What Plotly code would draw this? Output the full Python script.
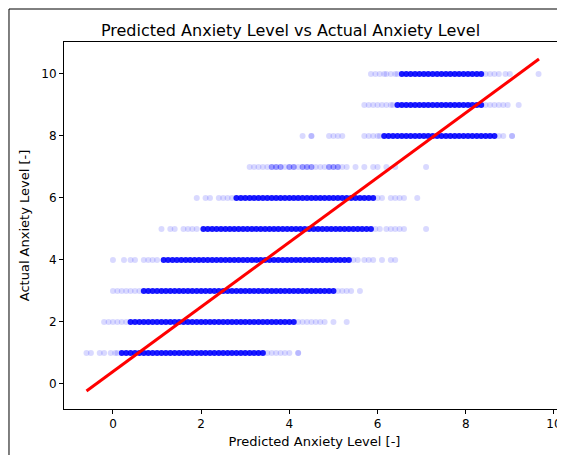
import plotly.graph_objects as go

# actual anxiety levels (rows of the scatter)
levels = [1, 2, 3, 4, 5, 6, 7, 8, 9, 10]

# dense part of each row: predicted values
core = {
    1: [0.2, 0.3, 0.4, 0.5, 0.6, 0.7, 0.8, 0.9, 1.0, 1.1, 1.2, 1.3, 1.4, 1.5, 1.6, 1.7, 1.8, 1.9, 2.0,
        2.1, 2.2, 2.3, 2.4, 2.5, 2.6, 2.7, 2.8, 2.9, 3.0, 3.1, 3.2, 3.3, 3.4],
    2: [0.4, 0.5, 0.6, 0.7, 0.8, 0.9, 1.0, 1.1, 1.2, 1.3, 1.4, 1.5, 1.6, 1.7, 1.8, 1.9, 2.0, 2.1, 2.2,
        2.3, 2.4, 2.5, 2.6, 2.7, 2.8, 2.9, 3.0, 3.1, 3.2, 3.3, 3.4, 3.5, 3.6, 3.7, 3.8, 3.9, 4.0, 4.1],
    3: [0.7, 0.8, 0.9, 1.0, 1.1, 1.2, 1.3, 1.4, 1.5, 1.6, 1.7, 1.8, 1.9, 2.0, 2.1, 2.2, 2.3, 2.4, 2.5,
        2.6, 2.7, 2.8, 2.9, 3.0, 3.1, 3.2, 3.3, 3.4, 3.5, 3.6, 3.7, 3.8, 3.9, 4.0, 4.1, 4.2, 4.3, 4.4,
        4.5, 4.6, 4.7, 4.8, 4.9, 5.0],
    4: [1.15, 1.25, 1.35, 1.45, 1.55, 1.65, 1.75, 1.85, 1.95, 2.05, 2.15, 2.25, 2.35, 2.45, 2.55, 2.65,
        2.75, 2.85, 2.95, 3.05, 3.15, 3.25, 3.35, 3.45, 3.55, 3.65, 3.75, 3.85, 3.95, 4.05, 4.15, 4.25,
        4.35, 4.45, 4.55, 4.65, 4.75, 4.85, 4.95, 5.05, 5.15, 5.25, 5.35],
    5: [2.05, 2.15, 2.25, 2.35, 2.45, 2.55, 2.65, 2.75, 2.85, 2.95, 3.05, 3.15, 3.25, 3.35, 3.45, 3.55,
        3.65, 3.75, 3.85, 3.95, 4.05, 4.15, 4.25, 4.35, 4.45, 4.55, 4.65, 4.75, 4.85, 4.95, 5.05, 5.15,
        5.25, 5.35, 5.45, 5.55, 5.65, 5.75, 5.85],
    6: [2.8, 2.9, 3.0, 3.1, 3.2, 3.3, 3.4, 3.5, 3.6, 3.7, 3.8, 3.9, 4.0, 4.1, 4.2, 4.3, 4.4, 4.5, 4.6,
        4.7, 4.8, 4.9, 5.0, 5.1, 5.2, 5.3, 5.4, 5.5, 5.6, 5.7, 5.8, 5.9],
    7: [3.6, 3.7, 3.8, 4.0, 4.1, 4.3, 4.4, 4.5, 4.9, 5.0, 5.1],
    8: [6.15, 6.25, 6.35, 6.45, 6.55, 6.65, 6.75, 6.85, 6.95, 7.05, 7.15, 7.25, 7.35, 7.45, 7.55, 7.65,
        7.75, 7.85, 7.95, 8.05, 8.15, 8.25, 8.35, 8.45, 8.55, 8.65],
    9: [6.45, 6.55, 6.65, 6.75, 6.85, 6.95, 7.05, 7.15, 7.25, 7.35, 7.45, 7.55, 7.65, 7.75, 7.85, 7.95,
        8.05, 8.15, 8.25, 8.35],
    10: [6.55, 6.65, 6.75, 6.85, 6.95, 7.05, 7.15, 7.25, 7.35, 7.45, 7.55, 7.65, 7.75, 7.85, 7.95, 8.05,
         8.15, 8.25, 8.35],
}

# sparse outliers of each row
tails = {
    1: [-0.6, -0.5, -0.3, -0.2, -0.05, 0.05, 0.1, 3.5, 3.6, 3.7, 3.8, 3.9, 4.0, 4.2, 4.2],
    2: [-0.2, -0.1, 0.0, 0.1, 0.2, 0.3, 4.2, 4.3, 4.4, 4.5, 4.6, 4.7, 4.8, 5.0, 5.3],
    3: [0.0, 0.1, 0.2, 0.3, 0.4, 0.5, 0.6, 5.1, 5.2, 5.3, 5.4, 5.6],
    4: [0.0, 0.25, 0.4, 0.5, 0.7, 0.8, 0.9, 1.0, 5.45, 5.55, 5.7, 5.8, 5.9, 6.1, 6.3, 6.4],
    5: [1.1, 1.3, 1.4, 1.6, 1.7, 1.8, 1.9, 5.95, 6.05, 6.2, 6.3, 6.4, 6.5, 6.6, 7.1],
    6: [1.9, 2.1, 2.2, 2.4, 2.5, 2.6, 2.7, 6.0, 6.1, 6.3, 6.4, 6.5, 6.6, 6.9],
    7: [3.1, 3.2, 3.3, 3.4, 3.5, 3.9, 4.2, 4.6, 4.7, 4.8, 5.2, 5.3, 5.5, 5.7, 5.9, 6.0, 6.2, 6.4, 7.1],
    8: [4.3, 4.5, 4.5, 4.9, 5.0, 5.1, 5.2, 5.7, 5.8, 5.9, 6.0, 6.05, 8.75, 8.85, 9.05, 9.05],
    9: [5.7, 5.8, 5.9, 6.0, 6.1, 6.2, 6.3, 6.35, 8.45, 8.55, 8.65, 8.75, 8.85, 8.95, 9.2],
    10: [5.85, 5.95, 6.05, 6.15, 6.2, 6.3, 6.4, 6.45, 8.45, 8.55, 8.65, 8.75, 8.9, 9.0, 9.65],
}

# fitted line end points
line_x = [-0.6, 9.66]
line_y = [-0.23, 10.48]

fig = go.Figure()

for lvl in levels:
    fig.add_trace(go.Scatter(
        x=tails[lvl], y=[lvl] * len(tails[lvl]), mode='markers',
        marker=dict(size=6, color='blue', opacity=0.15),
        hoverinfo='skip'
    ))
    fig.add_trace(go.Scatter(
        x=core[lvl], y=[lvl] * len(core[lvl]), mode='markers',
        marker=dict(size=6, color='blue', opacity=0.9 if lvl != 7 else 0.4),
        hoverinfo='skip'
    ))

fig.add_trace(go.Scatter(
    x=line_x, y=line_y, mode='lines',
    line=dict(color='red', width=3)
))

axis_style = dict(
    showgrid=False, zeroline=False, showline=True, linecolor='black', linewidth=1,
    mirror=True, ticks='outside', ticklen=4, tickcolor='black', automargin=False,
    tickfont=dict(family='DejaVu Sans', size=12, color='black'),
    title_font=dict(family='DejaVu Sans', size=13, color='black'),
)

fig.update_layout(
    width=565, height=455,
    showlegend=False,
    plot_bgcolor='white', paper_bgcolor='white',
    margin=dict(l=56, r=8, t=34, b=54, autoexpand=False),
    title=dict(text='Predicted Anxiety Level vs Actual Anxiety Level', x=0.5, xanchor='center',
               y=0.962, font=dict(family='DejaVu Sans', size=16, color='black')),
    xaxis=dict(axis_style, range=[-1.11, 10.25], tickvals=[0, 2, 4, 6, 8, 10],
               title=dict(text='Predicted Anxiety Level [-]', standoff=6)),
    yaxis=dict(axis_style, range=[-0.81, 11.03], tickvals=[0, 2, 4, 6, 8, 10],
               title=dict(text='Actual Anxiety Level [-]', standoff=8)),
    shapes=[dict(type='rect', xref='paper', yref='paper', x0=-0.1098, x1=1.0140, y0=-0.1444, y1=1.0899,
                 line=dict(color='black', width=1))],
)

fig.write_html("out.html")
